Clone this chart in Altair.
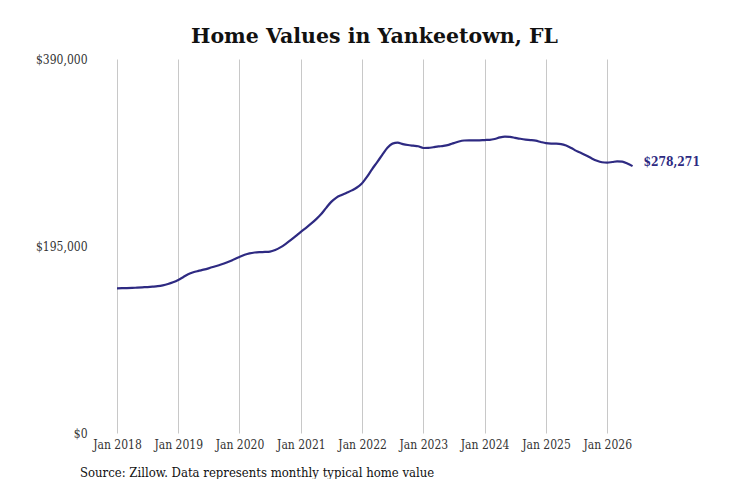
import altair as alt
import pandas as pd

start = "2018-01-01"
values = [
    150900, 151000, 151100, 151300, 151600, 151900, 152200, 152600, 153100, 154000,
    155400, 157200, 159600, 162700, 165500, 167600, 169000, 170300, 171700, 173300,
    175000, 176700, 178800, 181200, 183600, 185800, 187300, 188200, 188600, 188800,
    189200, 190900, 193600, 197000, 201000, 205200, 209800, 214000, 218000, 222800,
    228000, 234800, 241000, 245500, 248200, 250500, 253000, 256000, 260500, 267500,
    275000, 282500, 290000, 297500, 301800, 302700, 301300, 300300, 299600, 299000,
    297200, 297300, 298000, 298800, 299400, 300500, 302300, 304000, 305000, 305200,
    305200, 305200, 305500, 305700, 306600, 308200, 309000, 308800, 307800, 306800,
    306000, 305500, 304800, 303500, 302300, 301800, 301700, 301300, 299800, 297200,
    294200, 291800, 289200, 286300, 283800, 282300, 281900, 282600, 283300, 283000,
    281000, 278271,
]
dates = pd.date_range(start, periods=len(values), freq="MS")
df = pd.DataFrame({"date": dates, "value": values})
last = df.tail(1).copy()
last["label"] = ["$278,271"]

tick_dates = [pd.Timestamp(f"{y}-01-01") for y in range(2018, 2027)]
tick_ms = [int(t.timestamp() * 1000) for t in tick_dates]

FONT = "DejaVu Serif Condensed"
LINE = "#2e2a82"

xscale = alt.Scale(domain=["2017-08-23", "2027-07-08"])
yscale = alt.Scale(domain=[0, 390000], nice=False, zero=True)

base = alt.Chart(df)

line = base.mark_line(color=LINE, strokeWidth=2.2, interpolate="monotone").encode(
    x=alt.X("date:T", scale=xscale, title=None,
            axis=alt.Axis(values=tick_ms, format="Jan %Y", grid=True, gridColor="#c8c8c8",
                          gridWidth=1, ticks=False, domain=False, labelFont=FONT,
                          labelFontSize=12, labelColor="#333333", labelPadding=6)),
    y=alt.Y("value:Q", scale=yscale, title=None,
            axis=alt.Axis(values=[0, 195000, 390000], format="$,.0f", grid=False,
                          ticks=False, domain=False, labelFont=FONT, labelFontSize=12,
                          labelColor="#333333", labelPadding=8)),
)

end_label = alt.Chart(last).mark_text(
    align="left", baseline="middle", dx=11, dy=-4, font=FONT, fontSize=12,
    fontWeight="bold", color=LINE,
).encode(x=alt.X("date:T", scale=xscale), y=alt.Y("value:Q", scale=yscale), text="label:N")

source = alt.Chart(pd.DataFrame({"t": ["Source: Zillow. Data represents monthly typical home value"]})).mark_text(
    align="left", baseline="alphabetic", font=FONT, fontSize=13, color="#111111",
).encode(x=alt.value(-15), y=alt.value(418), text="t:N")

chart = alt.layer(line, end_label, source).properties(
    width=605,
    height=374,
    title=alt.TitleParams("Home Values in Yankeetown, FL", font="DejaVu Serif", fontSize=20.5,
                          fontWeight="bold", color="#111111", anchor="middle", dx=-23,
                          offset=6),
    autosize=alt.AutoSizeParams(type="none"),
    padding={"left": 87, "top": 51, "right": 23, "bottom": 46},
).configure(background="white").configure_view(strokeWidth=0, stroke="transparent")

chart.save("out.html", embed_options={"renderer": "svg", "actions": False})
